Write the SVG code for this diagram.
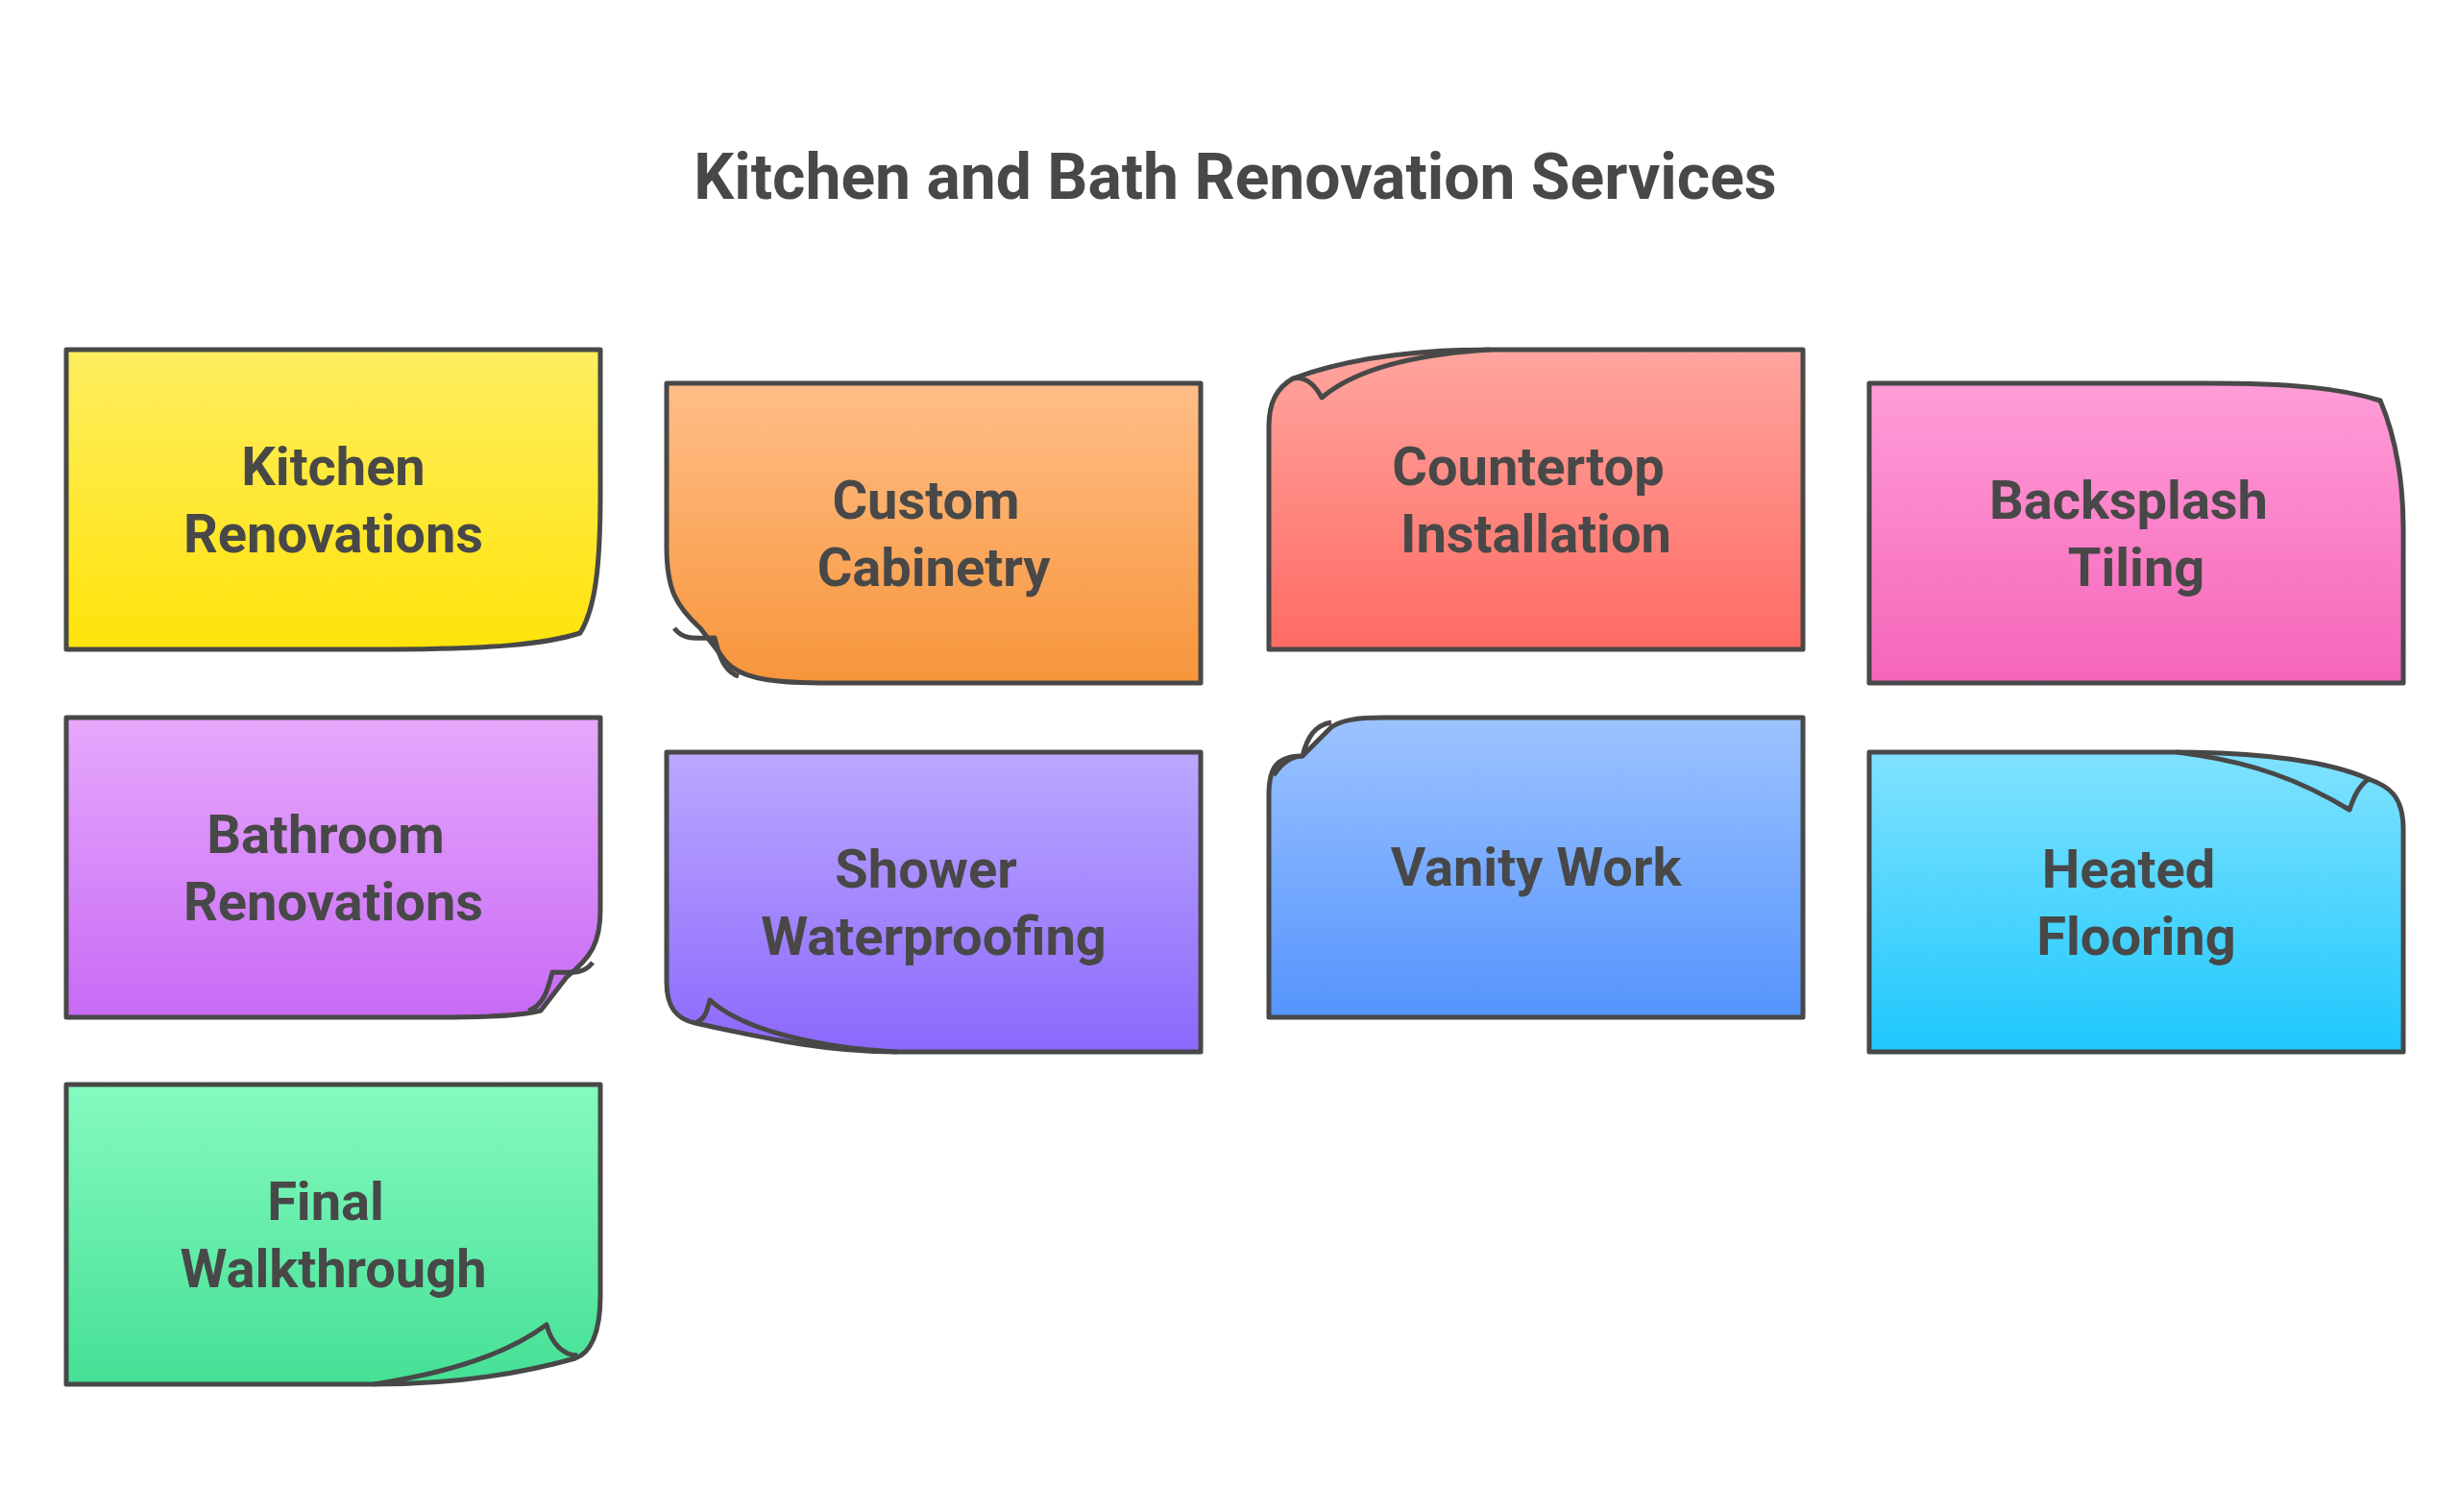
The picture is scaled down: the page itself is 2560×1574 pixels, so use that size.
<svg xmlns="http://www.w3.org/2000/svg" width="2560" height="1574" viewBox="0 0 2560 1574">
<defs>
<linearGradient id="gy" x1="0" y1="0" x2="0" y2="1"><stop offset="0" stop-color="#ffee60"/><stop offset="1" stop-color="#ffe30a"/></linearGradient>
<linearGradient id="go" x1="0" y1="0" x2="0" y2="1"><stop offset="0" stop-color="#ffbe88"/><stop offset="1" stop-color="#f7953a"/></linearGradient>
<linearGradient id="gr" x1="0" y1="0" x2="0" y2="1"><stop offset="0" stop-color="#ffa59e"/><stop offset="1" stop-color="#ff6b63"/></linearGradient>
<linearGradient id="gp" x1="0" y1="0" x2="0" y2="1"><stop offset="0" stop-color="#ff9dd8"/><stop offset="1" stop-color="#f565b8"/></linearGradient>
<linearGradient id="gm" x1="0" y1="0" x2="0" y2="1"><stop offset="0" stop-color="#e6a8fc"/><stop offset="1" stop-color="#c86af5"/></linearGradient>
<linearGradient id="gv" x1="0" y1="0" x2="0" y2="1"><stop offset="0" stop-color="#bba8ff"/><stop offset="1" stop-color="#8c68fc"/></linearGradient>
<linearGradient id="gb" x1="0" y1="0" x2="0" y2="1"><stop offset="0" stop-color="#9cc3ff"/><stop offset="1" stop-color="#5594fd"/></linearGradient>
<linearGradient id="gc" x1="0" y1="0" x2="0" y2="1"><stop offset="0" stop-color="#80e2ff"/><stop offset="1" stop-color="#1ec8fd"/></linearGradient>
<linearGradient id="gg" x1="0" y1="0" x2="0" y2="1"><stop offset="0" stop-color="#85fac0"/><stop offset="1" stop-color="#45e095"/></linearGradient>
</defs>
<style>
.s{stroke:#484848;stroke-width:5;stroke-linejoin:round}
.f{fill:none;stroke:#484848;stroke-width:5;stroke-linejoin:round}
text{font-family:Roboto,"Liberation Sans",sans-serif;font-weight:bold;fill:#484848;text-anchor:middle;dominant-baseline:central}
.t{font-size:56px}
.h{font-size:66px}
</style>
<rect width="2560" height="1574" fill="#fff"/>
<text class="h" x="1286" y="184">Kitchen and Bath Renovation Services</text>

<g id="kitchen" transform="translate(69,364)">
<path class="s" fill="url(#gy)" d="M0,0 H556 V150 C556,230 550,270 535,295 C500,306 450,312 320,312 H0 Z"/>
<text class="t" x="278" y="122">Kitchen</text><text class="t" x="278" y="192">Renovations</text>
</g>
<g id="cabinetry" transform="translate(694,399)">
<path class="s" fill="url(#go)" d="M0,0 H556 V312 H170 C120,312 80,310 62,290 L35,255 C10,232 0,215 0,170 Z"/>
<path class="f" d="M8,255 C18,268 30,265 50,265 C55,285 60,300 75,305"/>
<text class="t" x="270" y="122">Custom</text><text class="t" x="278" y="192">Cabinetry</text>
</g>
<g id="countertop" transform="translate(1321,364)">
<path class="s" fill="url(#gr)" d="M0,312 H556 V0 H230 C150,0 80,10 25,30 C8,40 0,55 0,80 Z"/>
<path class="f" d="M25,30 C40,27 50,40 55,50 C90,20 150,5 230,0"/>
<text class="t" x="270" y="122">Countertop</text><text class="t" x="278" y="192">Installation</text>
</g>
<g id="backsplash" transform="translate(1946,399)">
<path class="s" fill="url(#gp)" d="M0,0 H350 C440,0 490,5 532,18 C550,60 556,110 556,150 V312 H0 Z"/>
<text class="t" x="270" y="122">Backsplash</text><text class="t" x="278" y="192">Tiling</text>
</g>
<g id="bathroom" transform="translate(69,747)">
<path class="s" fill="url(#gm)" d="M0,0 H556 V200 C556,235 546,250 521,270 L494,305 C476,310 446,312 386,312 H0 Z"/>
<path class="f" d="M548,255 C538,268 526,265 506,265 C501,285 496,300 481,305"/>
<text class="t" x="270" y="122">Bathroom</text><text class="t" x="278" y="192">Renovations</text>
</g>
<g id="shower" transform="translate(694,783)">
<path class="s" fill="url(#gv)" d="M0,0 H556 V312 H240 C170,312 110,300 30,282 C10,278 0,265 0,240 Z"/>
<path class="f" d="M30,282 C40,278 42,270 45,258 C80,290 160,308 240,312"/>
<text class="t" x="270" y="122">Shower</text><text class="t" x="278" y="192">Waterproofing</text>
</g>
<g id="vanity" transform="translate(1321,747)">
<path class="s" fill="url(#gb)" d="M0,312 V80 C0,50 10,40 35,40 L65,10 C75,3 90,0 120,0 H556 V312 Z"/>
<path class="f" d="M5,60 C15,45 25,40 35,40 C40,20 48,8 65,5"/>
<text class="t" x="278" y="156">Vanity Work</text>
</g>
<g id="heated" transform="translate(1946,783)">
<path class="s" fill="url(#gc)" d="M0,0 H320 C410,0 480,10 520,28 C540,35 556,45 556,80 V312 H0 Z"/>
<path class="f" d="M320,0 C400,10 450,30 500,60 C505,45 510,35 520,28"/>
<text class="t" x="270" y="122">Heated</text><text class="t" x="278" y="192">Flooring</text>
</g>
<g id="final" transform="translate(69,1129)">
<path class="s" fill="url(#gg)" d="M0,0 H556 V220 C556,260 545,280 530,285 C470,302 400,312 320,312 H0 Z"/>
<path class="f" d="M320,312 C400,300 460,280 500,250 C505,270 518,282 532,282"/>
<text class="t" x="270" y="122">Final</text><text class="t" x="278" y="192">Walkthrough</text>
</g>
<g id="connectors"/>
</svg>
